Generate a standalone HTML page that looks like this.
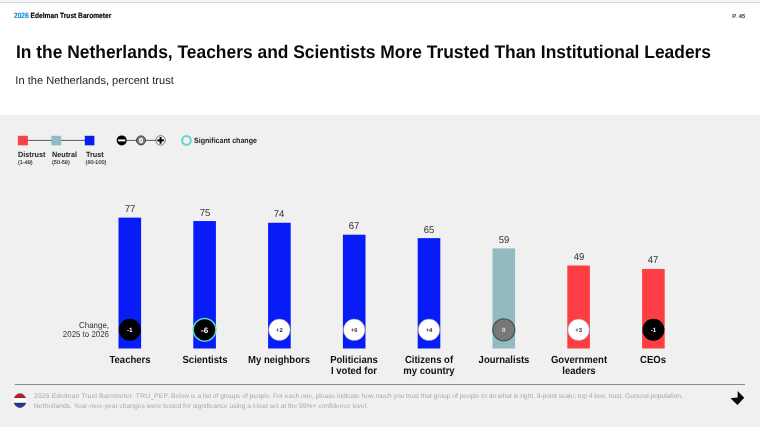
<!DOCTYPE html>
<html><head><meta charset="utf-8">
<style>
html,body{margin:0;padding:0;}
body{width:760px;height:427px;position:relative;overflow:hidden;background:#fff;font-family:"Liberation Sans",sans-serif;color:#111;text-rendering:geometricPrecision;}
.abs{position:absolute;white-space:nowrap;}
svg text{font-family:"Liberation Sans",sans-serif;}
#topstrip{left:0;top:0;width:760px;height:2px;background:#f4f4f4;border-bottom:1px solid #d9d9d9;}
#hdr{left:14.3px;top:10.7px;-webkit-text-stroke:0.2px;font-size:7.6px;font-weight:bold;line-height:9px;color:#0a0a0a;transform:scaleX(0.873);transform-origin:left center;}
#hdr span{color:#1e8fdc;}
#pg{left:732.2px;top:13.7px;font-size:5.9px;line-height:7px;color:#333;-webkit-text-stroke:0.15px #333;}
#title{left:16.2px;top:41.3px;font-size:18.3px;font-weight:bold;line-height:22px;color:#0a0a0a;transform:scaleX(0.952);transform-origin:left center;}
#sub{left:15.3px;top:74.4px;font-size:11.1px;line-height:14px;color:#222;}
#panel{left:0;top:115px;width:760px;height:312px;background:#f0f0f0;}
.lg{font-size:7.5px;font-weight:bold;line-height:9px;top:149.6px;color:#222;transform:scaleX(0.965);transform-origin:left center;}
.lr{font-size:5.5px;line-height:7px;top:160.2px;color:#2a2a2a;-webkit-text-stroke:0.12px #2a2a2a;}
.val{position:absolute;width:60px;text-align:center;font-size:9.9px;line-height:12px;color:#333;transform:scaleX(0.96);}
.lab{position:absolute;width:90px;text-align:center;font-size:10.3px;font-weight:bold;line-height:11.2px;color:#111;top:355.1px;transform:scaleX(0.925);}
#chg{left:40.9px;width:68px;text-align:right;top:320.6px;font-size:8.5px;line-height:9.5px;color:#333;white-space:normal;transform:scaleX(0.93);transform-origin:right center;}
#foot{left:34px;top:392.0px;font-size:6.7px;line-height:9.5px;color:#a8a8a8;}
#sig{left:194.4px;top:136.1px;font-size:7.75px;font-weight:bold;line-height:9px;color:#222;transform:scaleX(0.913);transform-origin:left center;}
#art{left:0;top:0;}
</style></head><body>
<div class="abs" id="topstrip"></div>
<div class="abs" id="hdr"><span>2026</span> Edelman Trust Barometer</div>
<div class="abs" id="pg">P. 45</div>
<div class="abs" id="title">In the Netherlands, Teachers and Scientists More Trusted Than Institutional Leaders</div>
<div class="abs" id="sub">In the Netherlands, percent trust</div>
<div class="abs" id="panel"></div>

<svg class="abs" id="art" width="760" height="427" viewBox="0 0 760 427">
  <!-- legend -->
  <line x1="27" y1="140.4" x2="86" y2="140.4" stroke="#333" stroke-width="0.8"/>
  <rect x="17.9" y="135.8" width="10" height="9.5" fill="#f6444a"/>
  <rect x="51.3" y="135.8" width="9.9" height="9.5" fill="#92bcc3"/>
  <rect x="84.8" y="135.8" width="9.6" height="9.5" fill="#081cf8"/>
  <line x1="122" y1="140.4" x2="160" y2="140.4" stroke="#333" stroke-width="0.8"/>
  <circle cx="121.7" cy="140.4" r="5" fill="#000"/>
  <rect x="118.1" y="139.45" width="7.2" height="1.9" fill="#fff"/>
  <circle cx="141" cy="140.4" r="4.5" fill="#7c7c7c" stroke="#3c3c3c" stroke-width="1"/>
  <text x="141" y="143" font-size="7.2" font-weight="bold" fill="#fff" stroke="#fff" stroke-width="0.3" text-anchor="middle">0</text>
  <circle cx="160.6" cy="140.4" r="4.7" fill="#fff" stroke="#333" stroke-width="0.7"/>
  <rect x="157.3" y="139.35" width="6.6" height="2.1" fill="#000"/>
  <rect x="159.55" y="137.1" width="2.1" height="6.6" fill="#000"/>
  <circle cx="186.5" cy="140.4" r="4.35" fill="none" stroke="#5fd6c8" stroke-width="2"/>
  <!-- bars -->
  <rect x="118.50" y="217.63" width="22.6" height="130.87" fill="#081cf8"/>
  <circle cx="129.80" cy="329.8" r="11" fill="#000"/>
  <text x="129.80" y="332.33" font-size="6.2" font-weight="bold" fill="#fff" text-anchor="middle">-1</text>
  <rect x="193.30" y="221.05" width="22.6" height="127.45" fill="#081cf8"/>
  <circle cx="204.60" cy="329.8" r="11.35" fill="#000" stroke="#5ad8cc" stroke-width="1.5"/>
  <text x="204.60" y="332.98" font-size="8" font-weight="bold" fill="#fff" text-anchor="middle">-6</text>
  <rect x="268.10" y="222.76" width="22.6" height="125.74" fill="#081cf8"/>
  <circle cx="279.40" cy="329.8" r="10.8" fill="#fff" stroke="#8a8a8a" stroke-width="0.5"/>
  <text x="279.40" y="332.22" font-size="5.9" font-weight="bold" fill="#333" text-anchor="middle">+2</text>
  <rect x="342.90" y="234.73" width="22.6" height="113.77" fill="#081cf8"/>
  <circle cx="354.20" cy="329.8" r="10.8" fill="#fff" stroke="#8a8a8a" stroke-width="0.5"/>
  <text x="354.20" y="332.22" font-size="5.9" font-weight="bold" fill="#333" text-anchor="middle">+6</text>
  <rect x="417.70" y="238.15" width="22.6" height="110.35" fill="#081cf8"/>
  <circle cx="429.00" cy="329.8" r="10.8" fill="#fff" stroke="#8a8a8a" stroke-width="0.5"/>
  <text x="429.00" y="332.22" font-size="5.9" font-weight="bold" fill="#333" text-anchor="middle">+4</text>
  <rect x="492.50" y="248.41" width="22.6" height="100.09" fill="#92bbc1"/>
  <circle cx="503.80" cy="329.8" r="11.05" fill="#7b7777" stroke="#38555a" stroke-width="1.1"/>
  <text x="503.80" y="332.33" font-size="6.2" font-weight="bold" fill="#e8e8e8" text-anchor="middle">0</text>
  <rect x="567.30" y="265.51" width="22.6" height="82.99" fill="#fc3e44"/>
  <circle cx="578.60" cy="329.8" r="10.8" fill="#fff" stroke="#8a8a8a" stroke-width="0.5"/>
  <text x="578.60" y="332.22" font-size="5.9" font-weight="bold" fill="#333" text-anchor="middle">+3</text>
  <rect x="642.10" y="268.93" width="22.6" height="79.57" fill="#fc3e44"/>
  <circle cx="653.40" cy="329.8" r="11" fill="#000"/>
  <text x="653.40" y="332.33" font-size="6.2" font-weight="bold" fill="#fff" text-anchor="middle">-1</text>
  <!-- footer -->
  <line x1="14.7" y1="384.5" x2="745" y2="384.5" stroke="#8c8c8c" stroke-width="1"/>
  <clipPath id="fc"><ellipse cx="19.95" cy="400.65" rx="6.3" ry="7.3"/></clipPath>
  <g clip-path="url(#fc)">
    <rect x="12" y="392" width="16" height="6.1" fill="#b4222b"/>
    <rect x="12" y="397.4" width="16" height="0.7" fill="#8e1c24"/>
    <rect x="12" y="398.1" width="16" height="4.8" fill="#fff"/>
    <rect x="12" y="402.9" width="16" height="7" fill="#22408a"/>
    <rect x="12" y="402.9" width="16" height="0.7" fill="#1a2f63"/>
  </g>
  <polygon points="737.6,391 744.3,397.7 737.4,405 730.5,398.3 737.6,397.6" fill="#0a0a0a"/>
</svg>

<div class="abs lg" style="left:18px;">Distrust</div>
<div class="abs lg" style="left:52px;">Neutral</div>
<div class="abs lg" style="left:85.6px;">Trust</div>
<div class="abs lr" style="left:18px;">(1-49)</div>
<div class="abs lr" style="left:52px;">(50-59)</div>
<div class="abs lr" style="left:85.6px;">(60-100)</div>
<div class="abs" id="sig">Significant change</div>
<div class="val" style="left:99.8px;top:204.1px;">77</div>
<div class="lab" style="left:84.8px;">Teachers</div>
<div class="val" style="left:174.6px;top:207.6px;">75</div>
<div class="lab" style="left:159.6px;">Scientists</div>
<div class="val" style="left:249.4px;top:209.3px;">74</div>
<div class="lab" style="left:234.4px;">My neighbors</div>
<div class="val" style="left:324.2px;top:221.2px;">67</div>
<div class="lab" style="left:309.2px;">Politicians<br>I voted for</div>
<div class="val" style="left:399.0px;top:224.7px;">65</div>
<div class="lab" style="left:384.0px;">Citizens of<br>my country</div>
<div class="val" style="left:473.8px;top:234.9px;">59</div>
<div class="lab" style="left:458.8px;">Journalists</div>
<div class="val" style="left:548.6px;top:252.0px;">49</div>
<div class="lab" style="left:533.6px;">Government<br>leaders</div>
<div class="val" style="left:623.4px;top:255.4px;">47</div>
<div class="lab" style="left:608.4px;">CEOs</div>
<div class="abs" id="chg">Change,<br>2025 to 2026</div>
<div class="abs" id="foot"><span style="letter-spacing:0.19px">2026 Edelman Trust Barometer. TRU_PEP.</span><span style="letter-spacing:-0.036px"> Below is a list of groups of people. For each one, please indicate how much you trust that group of people to do what is right. 9-point scale; top 4 box, trust. General population,</span><br>Netherlands. Year-over-year changes were tested for significance using a t-test set at the 99%+ confidence level.</div>
</body></html>
